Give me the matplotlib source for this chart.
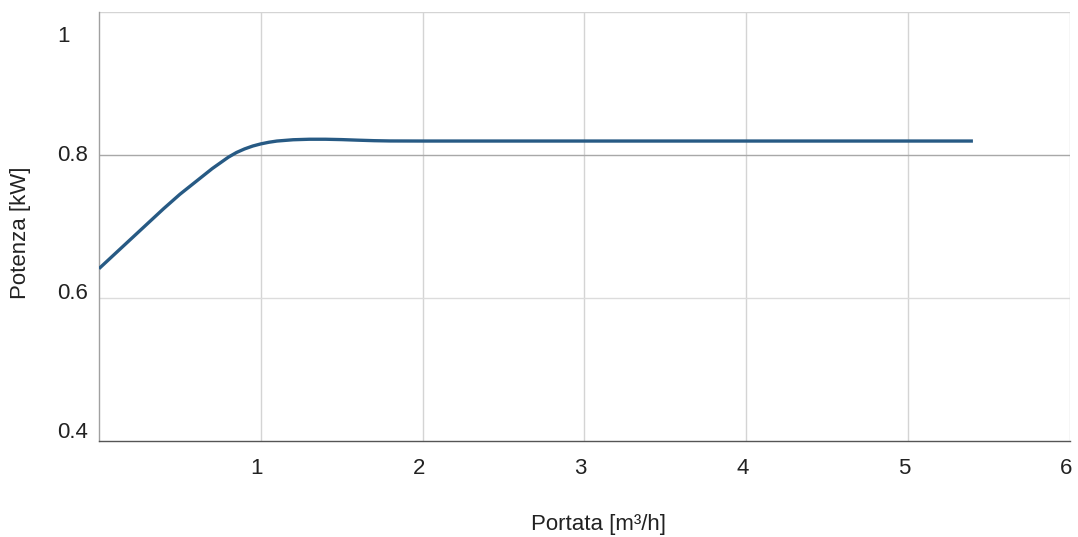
import numpy as np
import matplotlib
matplotlib.use('Agg')
import matplotlib.pyplot as plt
import matplotlib.transforms as mtransforms

plt.rcParams['font.family'] = ['Liberation Sans', 'DejaVu Sans']

# Curve
portata = [0.0, 0.2, 0.3, 0.4, 0.5, 0.6, 0.7, 0.8, 0.85, 0.9, 0.95, 1.0, 1.05, 1.1, 1.2, 1.3, 1.4, 1.5, 1.6, 1.7, 1.8, 2.0, 3.0, 4.0, 5.0, 5.4]
potenza = [0.641, 0.683, 0.704, 0.725, 0.745, 0.763, 0.781, 0.797, 0.8035, 0.8085, 0.8125, 0.8155, 0.8178, 0.8195, 0.8213, 0.822, 0.822, 0.8215, 0.8207, 0.82, 0.8196, 0.8195, 0.8195, 0.8195, 0.8195, 0.8195]

x_ticks = [1, 2, 3, 4, 5, 6]
y_ticks = [0.4, 0.6, 0.8, 1.0]
y_tick_labels = ['0.4', '0.6', '0.8', '1']

fig = plt.figure(figsize=(10.78, 5.37), dpi=100)
ax = fig.add_axes([0.0918, 0.1788, 0.9008, 0.7989])

ax.set_xlim(0, 6)
ax.set_ylim(0.4, 1.0)

# grid
for xv in x_ticks:
    ax.axvline(xv, color='#d4d4d4', lw=1.0, zorder=1)
ax.axhline(0.6, color='#dcdcdc', lw=1.0, zorder=1)
ax.axhline(0.8, color='#a8a8a8', lw=1.0, zorder=1)
ax.axhline(1.0, color='#d4d4d4', lw=1.0, zorder=1)

ax.plot(portata, potenza, color='#275a84', lw=2.4, solid_capstyle='butt', solid_joinstyle='round', zorder=3)

for side in ['top', 'right']:
    ax.spines[side].set_visible(False)
ax.spines['left'].set_color('#a0a0a0')
ax.spines['bottom'].set_color('#555555')
ax.spines['left'].set_linewidth(1.0)
ax.spines['bottom'].set_linewidth(1.0)

ax.set_xticks(x_ticks)
ax.set_xticklabels([str(v) for v in x_ticks], fontsize=16, color='#222222')
ax.tick_params(axis='x', length=0, pad=12)
for lab in ax.get_xticklabels():
    lab.set_transform(lab.get_transform() + mtransforms.ScaledTranslation(-4 / 100, 0, fig.dpi_scale_trans))

ax.set_yticks(y_ticks)
ax.set_yticklabels(y_tick_labels, fontsize=16, color='#222222', ha='left')
ax.tick_params(axis='y', length=0, pad=30)
y_shift = {'0.4': 11, '0.6': 7, '0.8': 2, '1': -22}
for lab in ax.get_yticklabels():
    dy = y_shift.get(lab.get_text(), 0)
    lab.set_transform(lab.get_transform() + mtransforms.ScaledTranslation(0, dy / 100, fig.dpi_scale_trans))

fig.text(0.555, 0.024, 'Portata [m³/h]', fontsize=16, color='#222222', ha='center', va='center')
fig.text(0.019, 0.566, 'Potenza [kW]', fontsize=16, color='#222222', rotation=90, ha='center', va='center')

fig.savefig('out.png', dpi=100)
